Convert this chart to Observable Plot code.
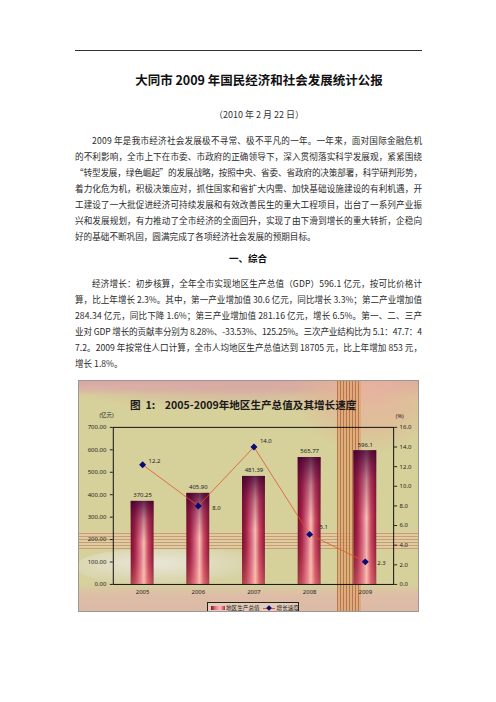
<!DOCTYPE html>
<html><head><meta charset="utf-8">
<script src="https://cdn.jsdelivr.net/npm/d3@7"></script>
<script src="https://cdn.jsdelivr.net/npm/@observablehq/plot@0.6"></script>
<style>
body{margin:0;background:#fff;width:496px;height:702px;position:relative;overflow:hidden;font-family:"Noto Sans CJK SC","Noto Sans",sans-serif;color:#222}
.ln{position:absolute;display:inline-block;white-space:nowrap;font-size:8.6px;line-height:16px;color:#2a2a2a}
.rule{position:absolute;left:75px;top:50px;width:347px;height:1px;background:#333}
.title{position:absolute;left:0;width:518px;text-align:center;top:70px;font-size:12.5px;font-weight:bold;color:#111}
.date{position:absolute;left:0;width:518px;text-align:center;top:108px;font-size:9px;color:#333}
.head{position:absolute;left:0;width:496px;text-align:center;top:251px;font-size:9.5px;font-weight:bold;color:#111}
#chart{position:absolute;left:78px;top:380px;width:341px;height:232px;overflow:hidden;background:#d6d19b;border:1px solid #999;box-sizing:border-box}
#chart .bg{position:absolute}
#chart svg{position:absolute;left:-1px;top:25px}
.ctitle{position:absolute;left:51px;top:16px;font-size:10.6px;font-weight:bold;color:#1a1a1a;white-space:pre}
.legend{position:absolute;left:128px;top:221px;width:92px;height:12px;border:1px solid #222;box-sizing:border-box;background:#e2cbb8;font-size:5.6px;line-height:10px;white-space:nowrap;color:#222}
.legend span{display:inline-block;vertical-align:middle}
</style></head>
<body>
<div class="rule"></div>
<div class="title">大同市 2009 年国民经济和社会发展统计公报</div>
<div class="date">（2010 年 2 月 22 日）</div>
<div id="text"></div>
<div class="head">一、综合</div>
<div id="chart">
  <div class="bg" style="left:0;top:0;width:341px;height:14px;background:linear-gradient(180deg,#d7a7a0,#dcb4a8 60%,rgba(214,209,155,0))"></div>
  <div class="bg" style="left:-40px;top:4px;width:420px;height:26px;border-radius:50%;background:radial-gradient(ellipse at 50% 0%,rgba(214,170,160,0.9),rgba(214,209,155,0) 70%)"></div>
  <div class="bg" style="left:215px;top:0;width:126px;height:70px;background:radial-gradient(ellipse at 60% 10%,rgba(232,178,160,0.95),rgba(226,180,150,0.6) 45%,rgba(214,209,155,0) 75%)"></div>
  <div class="bg" style="left:0;top:150px;width:341px;height:18px;background:repeating-linear-gradient(0deg,rgba(190,140,110,0.75) 0 1px,rgba(230,200,160,0.6) 1px 3px)"></div>
  <div class="bg" style="left:0;top:168px;width:190px;height:36px;border-radius:40%;background:radial-gradient(ellipse at 40% 40%,rgba(235,232,225,0.9),rgba(214,209,180,0.2) 70%,rgba(214,209,155,0))"></div>
  <div class="bg" style="left:0;top:202px;width:341px;height:30px;background:linear-gradient(180deg,rgba(220,190,170,0),rgba(222,188,168,0.95) 40%,#dcb9a4)"></div>
  <div class="bg" style="left:258px;top:0;width:24px;height:232px;background:repeating-linear-gradient(90deg,rgba(170,100,60,0.8) 0 1px,rgba(225,165,110,0.75) 1px 3px)"></div>
  <div class="ctitle">图  1:    2005-2009年地区生产总值及其增长速度</div>
  <div class="legend"><span style="width:14px;height:4px;margin-left:3px;background:linear-gradient(90deg,#7d1030,#e87890,#f8c0b0,#b02a48)"></span><span style="margin-left:1px">地区生产总值</span><span style="margin-left:3px;width:12px;height:6px;position:relative"><span style="position:absolute;left:0;top:2.5px;width:12px;height:1px;background:#e0552a"></span><span style="position:absolute;left:4px;top:0.5px;width:4px;height:4px;background:#0a0a7a;transform:rotate(45deg)"></span></span><span style="margin-left:2px">增长速度</span></div>
</div>
<script>
// ---------- text content ----------
const para1 = [
  "2009 年是我市经济社会发展极不寻常、极不平凡的一年。一年来，面对国际金融危机",
  "的不利影响，全市上下在市委、市政府的正确领导下，深入贯彻落实科学发展观，紧紧围绕",
  "“转型发展，绿色崛起”的发展战略，按照中央、省委、省政府的决策部署，科学研判形势，",
  "着力化危为机，积极决策应对，抓住国家和省扩大内需、加快基础设施建设的有利机遇，开",
  "工建设了一大批促进经济可持续发展和有效改善民生的重大工程项目，出台了一系列产业振",
  "兴和发展规划，有力推动了全市经济的全面回升，实现了由下滑到增长的重大转折，企稳向",
  "好的基础不断巩固，圆满完成了各项经济社会发展的预期目标。"
];
const para2 = [
  "经济增长：初步核算，全年全市实现地区生产总值（GDP）596.1 亿元，按可比价格计",
  "算，比上年增长 2.3%。其中，第一产业增加值 30.6 亿元，同比增长 3.3%；第二产业增加值",
  "284.34 亿元，同比下降 1.6%；第三产业增加值 281.16 亿元，增长 6.5%。第一、二、三产",
  "业对 GDP 增长的贡献率分别为 8.28%、-33.53%、125.25%。三次产业结构比为 5.1：47.7：4",
  "7.2。2009 年按常住人口计算，全市人均地区生产总值达到 18705 元，比上年增加 853 元，",
  "增长 1.8%。"
];

// ---------- chart data ----------
const years = ["2005", "2006", "2007", "2008", "2009"];
const gdp = [370.25, 405.90, 481.39, 565.77, 596.1];
const gdpLabels = ["370.25", "405.90", "481.39", "565.77", "596.1"];
const growth = [12.2, 8.0, 14.0, 5.1, 2.3];
const growthLabels = ["12.2", "8.0", "14.0", "5.1", "2.3"];
const leftTicks = [0, 100, 200, 300, 400, 500, 600, 700];
const rightTicks = [0, 2, 4, 6, 8, 10, 12, 14, 16];
const leftUnit = "(亿元)";
const rightUnit = "(%)";

// ---------- text layout ----------
const textBox = document.getElementById("text");
function addLines(lines, top0, lastFull) {
  lines.forEach((s, i) => {
    const d = document.createElement("div");
    d.className = "ln";
    d.textContent = s;
    const left = i === 0 ? 92 : 75;
    d.style.left = left + "px";
    d.style.top = (top0 + i * 16 - 8) + "px";
    textBox.appendChild(d);
    const isLast = i === lines.length - 1;
    if (!isLast || lastFull) {
      const target = 422 - left;
      const w = d.getBoundingClientRect().width;
      const n = [...s].length;
      d.style.letterSpacing = ((target - w) / (n - 1)) + "px";
    }
  });
}
addLines(para1, 140, false);
addLines(para2, 283, false);

// ---------- chart ----------
const k = 700 / 16;
const rows = years.map((y, i) => ({year: y, gdp: gdp[i], gdpLabel: gdpLabels[i], g: growth[i] * k, gLabel: growthLabels[i]}));
const nudge = [[6, -4], [14, 2], [6, -6], [10, -7], [12, 1]];
const font = "'Noto Sans','Noto Sans CJK SC',sans-serif";

const svg = Plot.plot({
  width: 341, height: 194,
  marginLeft: 35, marginRight: 24, marginTop: 21, marginBottom: 15,
  style: {background: "transparent", fontFamily: font, fontSize: "6px", color: "#222", overflow: "visible"},
  x: {type: "band", domain: years, paddingInner: 0.595, paddingOuter: 0.28, axis: null},
  y: {domain: [0, 700], axis: null},
  marks: [
    Plot.barY(rows, {x: "year", y: "gdp", fill: "url(#barH)"}),
    Plot.barY(rows, {x: "year", y: "gdp", fill: "url(#barV)"}),
    Plot.frame({stroke: "#111", strokeWidth: 1}),
    Plot.axisY({ticks: leftTicks, tickFormat: d => d.toFixed(2), anchor: "left", tickSize: 3, tickPadding: 4, label: null, fontSize: 6}),
    Plot.axisY({ticks: rightTicks.map(v => v * k), tickFormat: d => (d / k).toFixed(1), anchor: "right", tickSize: 3, tickPadding: 3, label: null, fontSize: 6}),
    Plot.axisX({tickSize: 0, tickPadding: 5, label: null, fontSize: 6}),
    Plot.line(rows, {x: "year", y: "g", stroke: "#e0552a", strokeWidth: 0.8}),
    Plot.dot(rows, {x: "year", y: "g", symbol: "diamond2", fill: "#0a0a7a", stroke: "#0a0a7a", r: 2.2}),
    ...rows.map((r, i) => Plot.text([r], {x: "year", y: "g", text: "gLabel", textAnchor: "start", dx: nudge[i][0], dy: nudge[i][1], fontSize: 6, fill: "#222"})),
    Plot.text(rows, {x: "year", y: "gdp", text: "gdpLabel", dy: -6, fontSize: 6, fill: "#222"}),
    Plot.text([leftUnit], {frameAnchor: "top-left", dx: -14, dy: -14, fontSize: 5.5, fill: "#222"}),
    Plot.text([rightUnit], {frameAnchor: "top-right", dx: 10, dy: -13, fontSize: 5.5, fill: "#222"})
  ]
});

const defs = d3.select(svg).insert("defs", ":first-child");
const gh = defs.append("linearGradient").attr("id", "barH").attr("x1", 0).attr("x2", 1).attr("y1", 0).attr("y2", 0);
[[0, "#7a0f2e"], [0.18, "#a52244"], [0.42, "#e0708a"], [0.58, "#f6c2b2"], [0.76, "#cf4862"], [1, "#861634"]]
  .forEach(([o, c]) => gh.append("stop").attr("offset", o).attr("stop-color", c));
const gv = defs.append("linearGradient").attr("id", "barV").attr("x1", 0).attr("x2", 0).attr("y1", 0).attr("y2", 1);
[[0, "#3a0030", 0.8], [0.22, "#5a0a40", 0.35], [0.5, "#5a0a40", 0], [0.85, "#ffb090", 0.15], [1, "#ffb090", 0.3]]
  .forEach(([o, c, a]) => gv.append("stop").attr("offset", o).attr("stop-color", c).attr("stop-opacity", a));

const chart = document.getElementById("chart");
chart.insertBefore(svg, chart.querySelector(".ctitle"));
</script>
</body></html>
